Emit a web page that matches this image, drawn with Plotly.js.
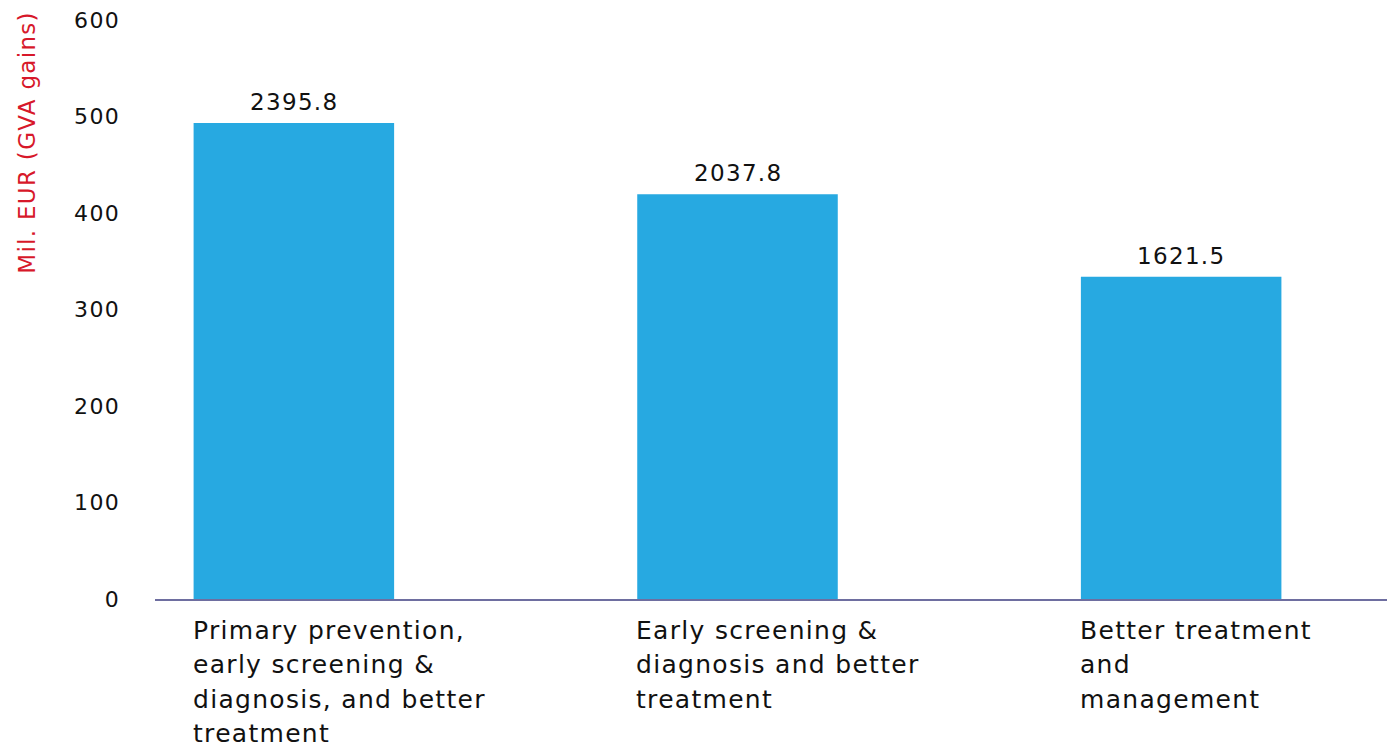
<!DOCTYPE html>
<html>
<head>
<meta charset="utf-8">
<script src="https://cdn.plot.ly/plotly-3.0.1.min.js"></script>
<style>
html,body{margin:0;padding:0;background:#fff;}
#chart{width:1387px;height:751px;}
#chart text{letter-spacing:1.3px;}
</style>
</head>
<body>
<div id="chart"></div>
<script>
// Data
const categories = ["Primary prevention, early screening & diagnosis, and better treatment",
                    "Early screening & diagnosis and better treatment",
                    "Better treatment and management"];
const categoryLines = [["Primary prevention,", "early screening &", "diagnosis, and better", "treatment"],
                       ["Early screening &", "diagnosis and better", "treatment"],
                       ["Better treatment", "and", "management"]];
const values = [2395.8, 2037.8, 1621.5];
const valueLabels = ["2395.8", "2037.8", "1621.5"];
const axisTickLabels = ["0", "100", "200", "300", "400", "500", "600"];
const axisTitle = "Mil. EUR (GVA gains)";

// The printed axis labels are on a different scale than the bar values
const axisScale = 4.857;
const tickvals = axisTickLabels.map(t => Number(t) * axisScale);
const barWidth = 0.452;
const xIdx = categories.map((c, i) => i);

const font = "'DejaVu Sans', sans-serif";

const trace = {
  type: "bar",
  x: xIdx,
  y: values,
  width: barWidth,
  marker: {color: "#27a9e1", line: {width: 0}},
  hoverinfo: "skip"
};

const annotations = [];
values.forEach((v, i) => {
  annotations.push({
    x: i, xref: "x", xanchor: "center",
    y: v, yref: "y", yanchor: "bottom", yshift: 6,
    text: valueLabels[i], showarrow: false,
    font: {family: font, size: 23, color: "#111"}
  });
});
categoryLines.forEach((lines, i) => {
  lines.forEach((ln, j) => {
    annotations.push({
      x: i - barWidth / 2, xref: "x", xanchor: "left", xshift: -3,
      y: 0, yref: "y", yanchor: "middle", yshift: -31 - 34.5 * j,
      text: ln, align: "left", showarrow: false,
      font: {family: font, size: 25, color: "#111"}
    });
  });
});
annotations.push({
  x: 0, xref: "paper", xanchor: "center", xshift: -128,
  y: 0.788, yref: "paper", yanchor: "middle",
  text: axisTitle, textangle: -90, showarrow: false,
  font: {family: font, size: 23, color: "#d7182a"}
});

const layout = {
  width: 1387, height: 751,
  margin: {l: 155, r: 0, t: 20, b: 152},
  paper_bgcolor: "#fff", plot_bgcolor: "#fff",
  showlegend: false,
  xaxis: {
    range: [-0.313, 2.464],
    showticklabels: false, showgrid: false, zeroline: false,
    showline: true, linecolor: "#6e6ea0", linewidth: 2, ticks: ""
  },
  yaxis: {
    range: [0, 600 * axisScale],
    tickvals: tickvals, ticktext: axisTickLabels,
    showgrid: false, zeroline: false, showline: false, ticks: "",
    ticklabelstandoff: 34,
    tickfont: {family: font, size: 22, color: "#111"}
  },
  annotations: annotations
};

Plotly.newPlot("chart", [trace], layout, {displayModeBar: false, staticPlot: true});
</script>
</body>
</html>
